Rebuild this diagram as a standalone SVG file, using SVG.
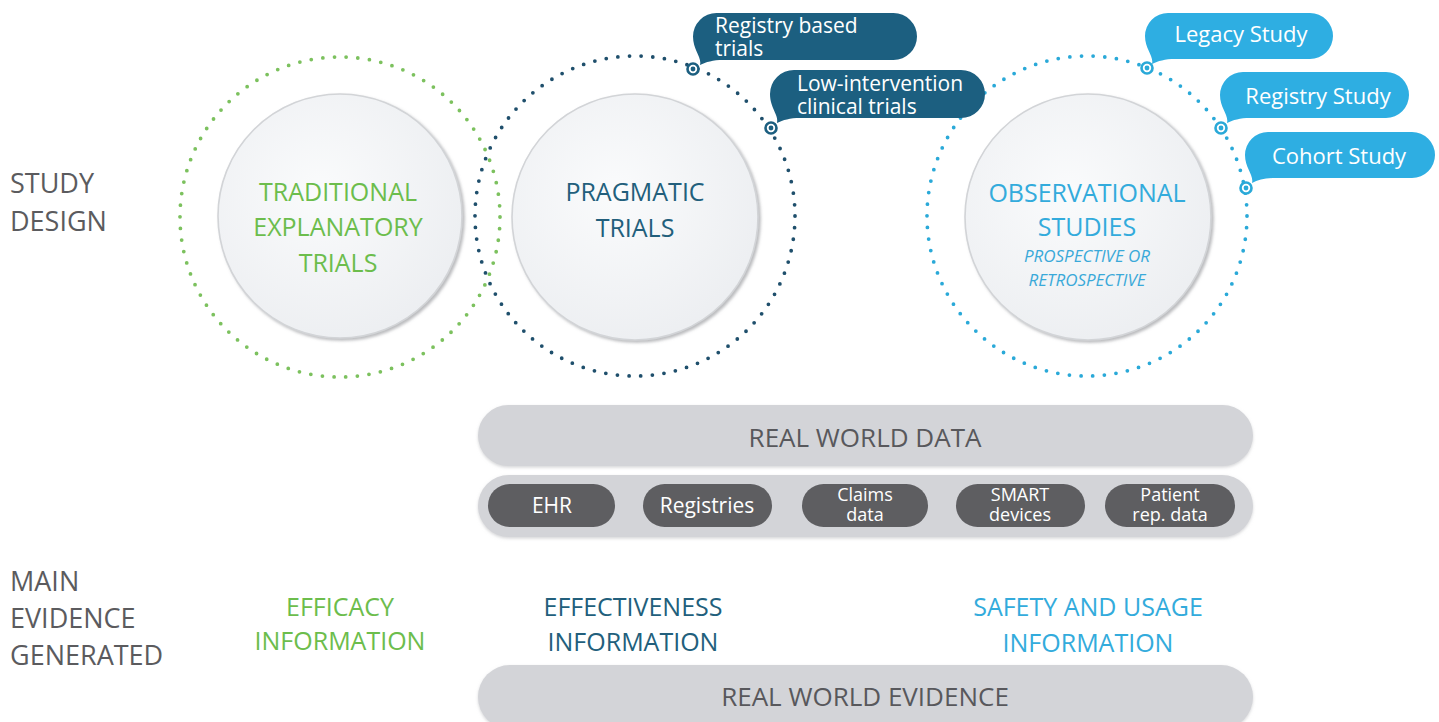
<svg xmlns="http://www.w3.org/2000/svg" width="1439" height="722" viewBox="0 0 1439 722">
  <defs>
    <style>
      text { font-family: "Open Sans", "Liberation Sans", sans-serif; }
      .side { font-size: 27px; fill: #5b5b5e; }
      .ctitle { font-size: 25px; text-anchor: middle; }
      .sub { font-size: 17px; font-style: italic; text-anchor: middle; fill: #3aa9d9; }
      .green { fill: #6cbd4c; }
      .dark { fill: #225f7c; }
      .light { fill: #33abdc; }
      .ring-green { fill: none; stroke: #7cc15e; stroke-width: 3.8; stroke-linecap: round; stroke-dasharray: 0 11.69; }
      .ring-dark { fill: none; stroke: #1f4f6c; stroke-width: 3.8; stroke-linecap: round; stroke-dasharray: 0 11.69; }
      .ring-light { fill: none; stroke: #2aa9d8; stroke-width: 3.8; stroke-linecap: round; stroke-dasharray: 0 11.69; }
      .core { fill: url(#coreFill); stroke: #d2d4d7; stroke-width: 1.6; filter: url(#coreShadow); }
      .bubble-dark { fill: #1c5f80; }
      .bubble-light { fill: #2eaee2; }
      .btext { font-size: 22px; fill: #ffffff; }
      .btext2 { font-size: 21px; fill: #ffffff; }
      .pin-dark { fill: #ffffff; stroke: #1c5f80; stroke-width: 2.6; }
      .pin-light { fill: #ffffff; stroke: #2aa9d8; stroke-width: 2.6; }
      .bar { fill: #d3d4d8; filter: url(#barShadow); }
      .bartext { font-size: 26px; fill: #58585c; text-anchor: middle; }
      .pill { fill: #5e5e61; }
      .ptext { font-size: 21px; fill: #ffffff; text-anchor: middle; }
      .ptext2 { font-size: 18px; fill: #ffffff; text-anchor: middle; }
      .info { font-size: 25px; text-anchor: middle; }
    </style>
    <radialGradient id="coreFill" cx="0.42" cy="0.4" r="0.65">
      <stop offset="0" stop-color="#fafbfc"/>
      <stop offset="1" stop-color="#eceef1"/>
    </radialGradient>
    <filter id="coreShadow" x="-10%" y="-10%" width="125%" height="125%">
      <feDropShadow dx="2" dy="2" stdDeviation="1.6" flood-color="#8c8e92" flood-opacity="0.6"/>
    </filter>
    <filter id="barShadow" x="-5%" y="-20%" width="110%" height="150%">
      <feDropShadow dx="0" dy="1.5" stdDeviation="1.5" flood-color="#b9babd" flood-opacity="0.6"/>
    </filter>
  </defs>

  <rect width="1439" height="722" fill="#ffffff"/>

  <!-- row labels -->
  <g id="label-study-design">
    <text class="side" x="10" y="193">STUDY<tspan x="10" y="231">DESIGN</tspan></text>
  </g>
  <g id="label-main-evidence">
    <text class="side" x="10" y="591">MAIN<tspan x="10" y="628">EVIDENCE</tspan><tspan x="10" y="665">GENERATED</tspan></text>
  </g>

  <!-- study design circles -->
  <g id="traditional-trials">
    <circle class="ring-green" cx="340" cy="217" r="160"/>
    <circle class="core" cx="340" cy="216" r="122"/>
    <text class="ctitle green" x="338" y="201">TRADITIONAL<tspan x="338" y="236">EXPLANATORY</tspan><tspan x="338" y="272">TRIALS</tspan></text>
  </g>

  <g id="pragmatic-trials">
    <circle class="ring-dark" cx="635" cy="216" r="160"/>
    <circle class="core" cx="635" cy="217" r="123"/>
    <text class="ctitle dark" x="635" y="201">PRAGMATIC<tspan x="635" y="237">TRIALS</tspan></text>
  </g>

  <g id="observational-studies">
    <circle class="ring-light" cx="1087" cy="216" r="160"/>
    <circle class="core" cx="1088" cy="217" r="123"/>
    <text class="ctitle light" x="1087" y="202">OBSERVATIONAL<tspan x="1087" y="236">STUDIES</tspan></text>
    <text class="sub" x="1087" y="262">PROSPECTIVE OR<tspan x="1087" y="286">RETROSPECTIVE</tspan></text>
  </g>

  <!-- callout bubbles on the pragmatic ring -->
  <g id="registry-based-trials">
    <path class="bubble-dark" d="M716.5,13 H893.5 A23.5,23.5 0 0 1 893.5,60 H723 C713,60 706,62 700,65 C702,57 693,50 693,36.5 A23.5,23.5 0 0 1 716.5,13 Z"/>
    <text class="btext2" x="715" y="33">Registry based<tspan x="715" y="56">trials</tspan></text>
    <circle class="pin-dark" cx="693" cy="69" r="5.5"/>
    <circle cx="693" cy="69" r="2.4" fill="#1c5f80"/>
  </g>

  <g id="low-intervention-trials">
    <path class="bubble-dark" d="M794,70 H961 A24,24 0 0 1 961,118 H800 C790,118 783,120 777,123 C779,115 770,108 770,94 A24,24 0 0 1 794,70 Z"/>
    <text class="btext2" x="797" y="91">Low-intervention<tspan x="797" y="114">clinical trials</tspan></text>
    <circle class="pin-dark" cx="771" cy="128" r="5.5"/>
    <circle cx="771" cy="128" r="2.4" fill="#1c5f80"/>
  </g>

  <!-- callout bubbles on the observational ring -->
  <g id="legacy-study">
    <path class="bubble-light" d="M1168,13 H1310 A23,23 0 0 1 1310,59 H1175 C1165,59 1158,61 1152,64 C1154,56 1145,49 1145,36 A23,23 0 0 1 1168,13 Z"/>
    <text class="btext" x="1241" y="42" text-anchor="middle">Legacy Study</text>
    <circle class="pin-light" cx="1147" cy="68" r="5.5"/>
    <circle cx="1147" cy="68" r="2.4" fill="#2aa9d8"/>
  </g>

  <g id="registry-study">
    <path class="bubble-light" d="M1243,72 H1386 A23,23 0 0 1 1386,118 H1250 C1240,118 1233,120 1227,123 C1229,115 1220,108 1220,95 A23,23 0 0 1 1243,72 Z"/>
    <text class="btext" x="1318" y="104" text-anchor="middle">Registry Study</text>
    <circle class="pin-light" cx="1221" cy="128" r="5.5"/>
    <circle cx="1221" cy="128" r="2.4" fill="#2aa9d8"/>
  </g>

  <g id="cohort-study">
    <path class="bubble-light" d="M1268,132 H1412 A23,23 0 0 1 1412,178 H1275 C1265,178 1258,180 1252,183 C1254,175 1245,168 1245,155 A23,23 0 0 1 1268,132 Z"/>
    <text class="btext" x="1339" y="164" text-anchor="middle">Cohort Study</text>
    <circle class="pin-light" cx="1246" cy="188" r="5.5"/>
    <circle cx="1246" cy="188" r="2.4" fill="#2aa9d8"/>
  </g>

  <!-- real world data bars -->
  <g id="real-world-data">
    <rect class="bar" x="478" y="405" width="775" height="61" rx="30.5"/>
    <text class="bartext" x="865" y="447">REAL WORLD DATA</text>
  </g>

  <g id="data-sources">
    <rect class="bar" x="478" y="475" width="775" height="62" rx="31"/>
    <g id="source-ehr">
      <rect class="pill" x="488" y="484" width="127" height="43" rx="21.5"/>
      <text class="ptext" x="552" y="513">EHR</text>
    </g>
    <g id="source-registries">
      <rect class="pill" x="643" y="484" width="129" height="43" rx="21.5"/>
      <text class="ptext" x="707" y="513">Registries</text>
    </g>
    <g id="source-claims">
      <rect class="pill" x="802" y="484" width="126" height="43" rx="21.5"/>
      <text class="ptext2" x="865" y="501">Claims<tspan x="865" y="521">data</tspan></text>
    </g>
    <g id="source-smart">
      <rect class="pill" x="956" y="484" width="129" height="43" rx="21.5"/>
      <text class="ptext2" x="1020" y="501">SMART<tspan x="1020" y="521">devices</tspan></text>
    </g>
    <g id="source-patient">
      <rect class="pill" x="1105" y="484" width="130" height="43" rx="21.5"/>
      <text class="ptext2" x="1170" y="501">Patient<tspan x="1170" y="521">rep. data</tspan></text>
    </g>
  </g>

  <!-- evidence generated -->
  <g id="efficacy-information">
    <text class="info green" x="340" y="616">EFFICACY<tspan x="340" y="650">INFORMATION</tspan></text>
  </g>
  <g id="effectiveness-information">
    <text class="info dark" x="633" y="616">EFFECTIVENESS<tspan x="633" y="651">INFORMATION</tspan></text>
  </g>
  <g id="safety-usage-information">
    <text class="info light" x="1088" y="616">SAFETY AND USAGE<tspan x="1088" y="652">INFORMATION</tspan></text>
  </g>

  <g id="real-world-evidence">
    <rect class="bar" x="478" y="665" width="775" height="64" rx="32"/>
    <text class="bartext" x="865" y="706">REAL WORLD EVIDENCE</text>
  </g>
</svg>
